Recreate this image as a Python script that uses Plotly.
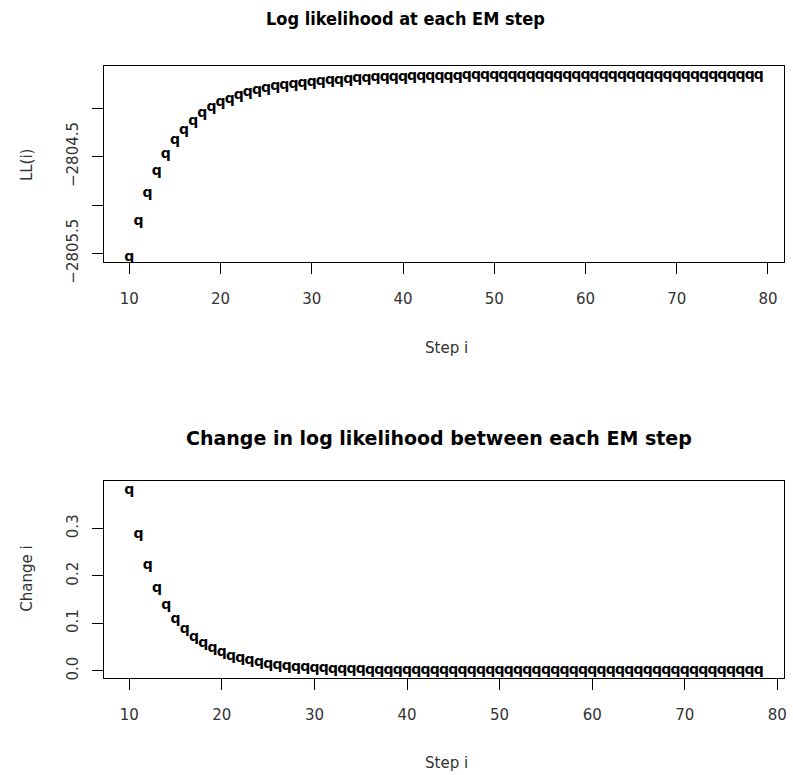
import plotly.graph_objects as go

# ---- data ----
steps_ll = list(range(10, 80))
ll_values = [
    -2805.538, -2805.168, -2804.881, -2804.658, -2804.477, -2804.329, -2804.225,
    -2804.132, -2804.052, -2803.994, -2803.942, -2803.904, -2803.870, -2803.839,
    -2803.814, -2803.793, -2803.777, -2803.762, -2803.749, -2803.738, -2803.728,
    -2803.721, -2803.715, -2803.707, -2803.700, -2803.695, -2803.690, -2803.685,
    -2803.681, -2803.678, -2803.675, -2803.673, -2803.671, -2803.669, -2803.667,
    -2803.666, -2803.665, -2803.664, -2803.664, -2803.663, -2803.663,
    -2803.662, -2803.662, -2803.662, -2803.661, -2803.661, -2803.661, -2803.661,
    -2803.661, -2803.661, -2803.661,
    -2803.660, -2803.660, -2803.660, -2803.660, -2803.660, -2803.660, -2803.660,
    -2803.660, -2803.660, -2803.660, -2803.660, -2803.660, -2803.660, -2803.660,
    -2803.660, -2803.660, -2803.660, -2803.660, -2803.660,
]
steps_change = list(range(10, 79))
change_values = [
    0.380, 0.288, 0.222, 0.174, 0.137, 0.108, 0.087, 0.070, 0.057, 0.047,
    0.038, 0.031, 0.026, 0.021, 0.017, 0.014, 0.011, 0.009, 0.0075, 0.0061,
    0.0050, 0.0041, 0.0033, 0.0027, 0.0022, 0.0018, 0.0015, 0.0012, 0.0010, 0.0008,
    0.0007, 0.0006, 0.0005, 0.0004, 0.0003, 0.0003, 0.0002, 0.0002, 0.0002, 0.0001,
    0.0001,
    0.0001, 0.0001, 0.0001, 0.0001, 0.0001, 0.0001, 0.0001, 0.0001, 0.0001, 0.0001,
    0.0, 0.0, 0.0, 0.0, 0.0, 0.0, 0.0, 0.0, 0.0, 0.0, 0.0, 0.0, 0.0, 0.0, 0.0, 0.0, 0.0, 0.0,
]
x_ticks = [10, 20, 30, 40, 50, 60, 70, 80]
ll_tickvals = [-2805.5, -2805.0, -2804.5, -2804.0]
ll_ticktext = ["\u22122805.5", "", "\u22122804.5", ""]
ch_tickvals = [0.0, 0.1, 0.2, 0.3]
ch_ticktext = ["0.0", "0.1", "0.2", "0.3"]

W, H = 793, 775          # reference pixel frame
FIG_H = 797              # layout height (page is photographed slightly squeezed)
def px(x):
    return x / W
def py(y):
    return 1 - y / H

marker_font = dict(family="DejaVu Sans", size=14, color="black", weight="bold")
tick_font = dict(family="DejaVu Sans", size=15, color="#333333")
title_font = dict(family="DejaVu Sans Condensed, DejaVu Sans", size=18, color="black", weight="bold")
title_font2 = dict(family="DejaVu Sans", size=19, color="black", weight="bold")
lab_font = dict(family="DejaVu Sans", size=15, color="#333333")

fig = go.Figure()
fig.add_trace(go.Scatter(x=steps_ll, y=ll_values, mode="text", text=["q"] * len(steps_ll),
                         textposition="middle center", textfont=marker_font,
                         xaxis="x", yaxis="y", showlegend=False, hoverinfo="x+y"))
fig.add_trace(go.Scatter(x=steps_change, y=change_values, mode="text", text=["q"] * len(steps_change),
                         textposition="middle center", textfont=marker_font,
                         xaxis="x2", yaxis="y2", showlegend=False, hoverinfo="x+y"))

axis_common = dict(showline=True, mirror=True, linecolor="black", linewidth=1.3,
                   ticks="outside", ticklen=11, tickwidth=1.3, tickcolor="black",
                   showgrid=False, zeroline=False, tickfont=tick_font)

fig.update_layout(
    width=W, height=FIG_H,
    margin=dict(l=0, r=0, t=0, b=0),
    paper_bgcolor="white", plot_bgcolor="white",
    xaxis=dict(domain=[px(104.5), px(787)], anchor="y", range=[7.24, 81.76],
               tickvals=x_ticks, ticklabelstandoff=12, **axis_common),
    yaxis=dict(domain=[py(262), py(65.7)], anchor="x", range=[-2805.593, -2803.559],
               tickvals=ll_tickvals, ticktext=ll_ticktext, tickangle=-90,
               ticklabelstandoff=8, **axis_common),
    xaxis2=dict(domain=[px(104.5), px(787)], anchor="y2", range=[7.28, 80.72],
                tickvals=x_ticks, ticklabelstandoff=12, **axis_common),
    yaxis2=dict(domain=[py(677), py(480.7)], anchor="x2", range=[-0.0148, 0.3994],
                tickvals=ch_tickvals, ticktext=ch_ticktext, tickangle=-90,
                ticklabelstandoff=8, **axis_common),
    annotations=[
        dict(text="Log likelihood at each EM step", x=px(265), y=py(18), xref="paper", yref="paper",
             xanchor="left", yanchor="middle", showarrow=False, font=title_font),
        dict(text="Change in log likelihood between each EM step", x=px(185), y=py(437),
             xref="paper", yref="paper", xanchor="left", yanchor="middle", showarrow=False,
             font=title_font2),
        dict(text="Step i", x=px(448), y=py(348), xref="paper", yref="paper",
             xanchor="center", yanchor="middle", showarrow=False, font=lab_font),
        dict(text="Step i", x=px(448), y=py(762), xref="paper", yref="paper",
             xanchor="center", yanchor="middle", showarrow=False, font=lab_font),
        dict(text="LL(i)", x=px(27), y=py(164), xref="paper", yref="paper", textangle=-90,
             xanchor="center", yanchor="middle", showarrow=False, font=lab_font),
        dict(text="Change i", x=px(27), y=py(578), xref="paper", yref="paper", textangle=-90,
             xanchor="center", yanchor="middle", showarrow=False, font=lab_font),
    ],
)

fig.write_html("out.html")
